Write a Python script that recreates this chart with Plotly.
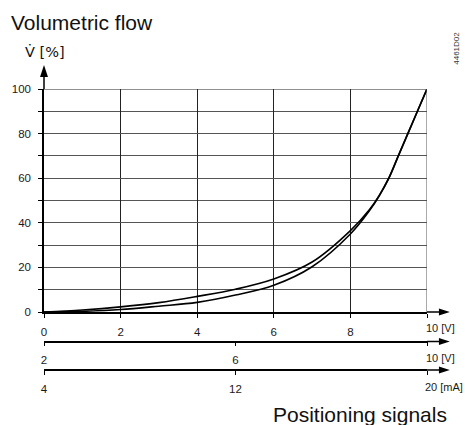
import plotly.graph_objects as go

# ---------------- data ----------------
signal_v = [0, 1, 2, 3, 4, 5, 6, 7, 8, 8.5, 8.75, 9, 9.25, 9.5, 9.75, 10]
flow_upper = [0, 0.9, 2.3, 4.2, 7.0, 10.2, 14.8, 22.4, 36.5, 46.0, 52.2, 60.0, 70.0, 80.0, 90.0, 100]
flow_lower = [0, 0.3, 1.1, 2.6, 4.3, 7.6, 12.0, 20.3, 35.0, 45.5, 52.0, 59.8, 69.9, 80.0, 90.0, 100]

x_ticks_v = [0, 2, 4, 6, 8, 10]
x_ticklabels_v = ["0", "2", "4", "6", "8", ""]
y_ticks = [0, 20, 40, 60, 80, 100]
y_minor = [10, 30, 50, 70, 90]
x2_ticks = [2, 6, 10]
x2_labels = ["2", "6", ""]
x3_ticks = [4, 12, 20]
x3_labels = ["4", "12", ""]

# ---------------- layout geometry ----------------
W, H = 465, 425
L, R, T, B = 41, 38, 89, 55
PW = W - L - R
PH = H - T - B


def px_x(px):
    return (px - L) / PW


def px_y(py):
    return (H - B - py) / PH


y_dom0 = px_y(312)
x2_pos = px_y(341.5)
x3_pos = 0.0

FONT = "Liberation Sans, Arial, sans-serif"
TICKFONT = dict(family=FONT, size=11.5, color="#1a1a1a")

fig = go.Figure()

fig.add_trace(go.Scatter(x=signal_v, y=flow_upper, mode="lines",
                         line=dict(color="black", width=1.6, shape="spline", smoothing=1.0),
                         hoverinfo="skip", showlegend=False))
fig.add_trace(go.Scatter(x=signal_v, y=flow_lower, mode="lines",
                         line=dict(color="black", width=1.6, shape="spline", smoothing=1.0),
                         hoverinfo="skip", showlegend=False))
# dummy traces to activate the additional signal axes
fig.add_trace(go.Scatter(x=[x2_ticks[0], x2_ticks[-1]], y=[0, 0], xaxis="x2", yaxis="y",
                         mode="lines", line=dict(width=0), hoverinfo="skip", showlegend=False))
fig.add_trace(go.Scatter(x=[x3_ticks[0], x3_ticks[-1]], y=[0, 0], xaxis="x3", yaxis="y",
                         mode="lines", line=dict(width=0), hoverinfo="skip", showlegend=False))

common_x = dict(showline=True, linecolor="black", linewidth=1.5, ticks="outside",
                ticklen=4, tickwidth=1, tickcolor="black", tickfont=TICKFONT,
                zeroline=False, ticklabelstandoff=4)

fig.update_layout(
    width=W, height=H,
    margin=dict(l=L, r=R, t=T, b=B, pad=0),
    paper_bgcolor="white", plot_bgcolor="white",
    showlegend=False,
    xaxis=dict(range=[0, 10], tickvals=x_ticks_v, ticktext=x_ticklabels_v,
               showgrid=True, gridcolor="#222", gridwidth=1, mirror=False,
               anchor="y", **common_x),
    xaxis2=dict(range=[2, 10], tickvals=x2_ticks, ticktext=x2_labels, showgrid=False,
                anchor="free", position=x2_pos, overlaying="x", **common_x),
    xaxis3=dict(range=[4, 20], tickvals=x3_ticks, ticktext=x3_labels, showgrid=False,
                anchor="free", position=x3_pos, overlaying="x", **common_x),
    yaxis=dict(range=[0, 100], domain=[y_dom0, 1], tickvals=y_ticks,
               showgrid=True, gridcolor="#555", gridwidth=1,
               showline=True, linecolor="black", linewidth=1.5, mirror=False,
               ticks="outside", ticklen=4, tickcolor="black", tickfont=TICKFONT,
               zeroline=False, ticklabelstandoff=5,
               minor=dict(tickvals=y_minor, ticks="outside", ticklen=4, tickcolor="black",
                          showgrid=True, gridcolor="#555", gridwidth=1)),
)

shapes = []
# border lines at 100 % and at 10 V
shapes.append(dict(type="line", xref="x", yref="y", x0=0, x1=10, y0=100, y1=100,
                   line=dict(color="#222", width=1)))
shapes.append(dict(type="line", xref="x", yref="y", x0=10, x1=10, y0=0, y1=100,
                   line=dict(color="#555", width=1)))
# y-axis arrow
shapes.append(dict(type="line", xref="paper", yref="paper", x0=0, x1=0, y0=1, y1=px_y(76),
                   line=dict(color="black", width=1.5)))
shapes.append(dict(type="path", xref="paper", yref="paper",
                   path=f"M{px_x(37)},{px_y(77)} L{px_x(41)},{px_y(65)} L{px_x(45)},{px_y(77)} Z",
                   fillcolor="black", line=dict(width=0)))
# x-axes arrows
for yy in [y_dom0, x2_pos, x3_pos]:
    shapes.append(dict(type="line", xref="paper", yref="paper", x0=1, x1=px_x(440), y0=yy, y1=yy,
                       line=dict(color="black", width=1.5)))
    dy = 3.5 / PH
    shapes.append(dict(type="path", xref="paper", yref="paper",
                       path=f"M{px_x(439)},{yy + dy} L{px_x(450)},{yy} L{px_x(439)},{yy - dy} Z",
                       fillcolor="black", line=dict(width=0)))
fig.update_layout(shapes=shapes)

ann = []


def add_text(text, px, py, size, xanchor="left", color="#111", angle=0, family=FONT):
    ann.append(dict(text=text, xref="paper", yref="paper", x=px_x(px), y=px_y(py),
                    xanchor=xanchor, yanchor="middle", showarrow=False, textangle=angle,
                    font=dict(family=family, size=size, color=color)))


add_text("Volumetric flow", 6, 22, 21)
add_text("V\u0307 [%]", 20, 52, 14.5, family="DejaVu Sans, Liberation Sans, sans-serif")
add_text("10 [V]", 423.5, 328, 11, color="#1a1a1a")
add_text("10 [V]", 423.5, 357.5, 11, color="#1a1a1a")
add_text("20 [mA]", 423, 386.5, 11, color="#1a1a1a")
add_text("Positioning signals", 449, 414, 21, xanchor="right")
add_text("4461D02", 457, 48, 8, xanchor="center", color="#333", angle=-90)
fig.update_layout(annotations=ann)

fig.write_html("out.html", config={"displayModeBar": False},
               post_script="document.body.style.margin='0px';document.body.style.padding='0px';")
